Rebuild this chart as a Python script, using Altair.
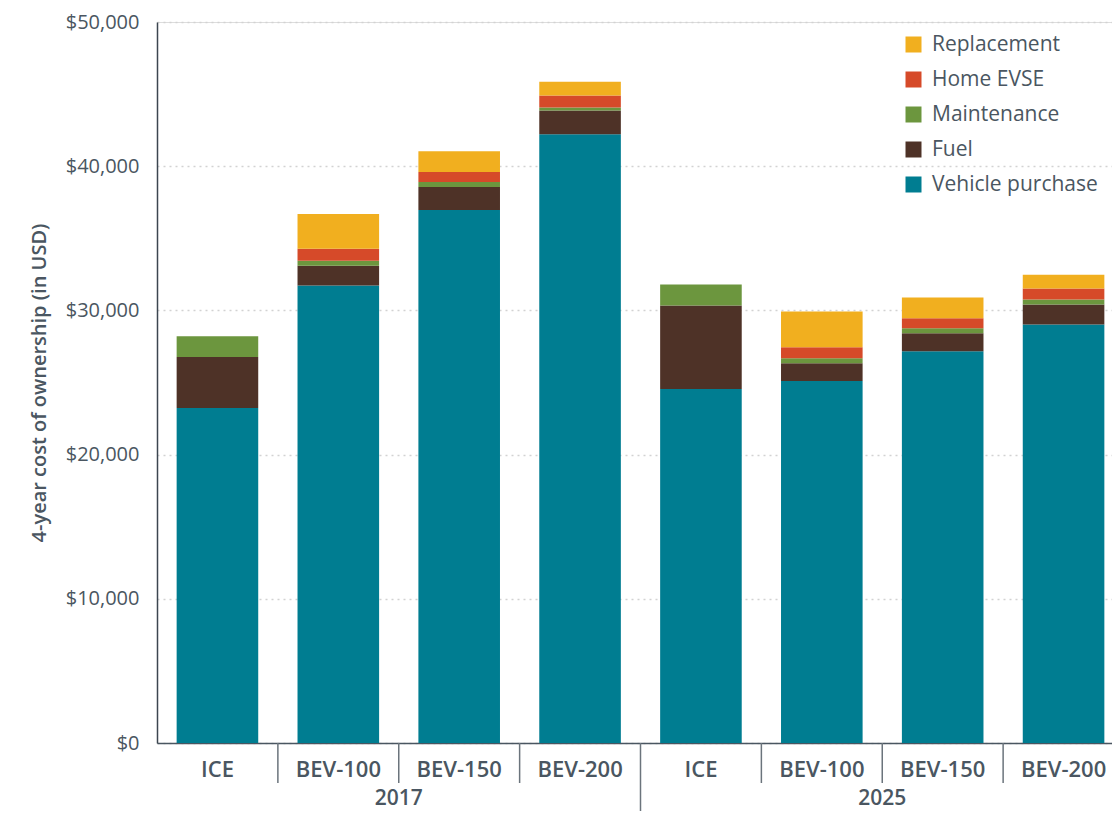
import altair as alt
import pandas as pd

# ---- data ----
years = ["2017", "2017", "2017", "2017", "2025", "2025", "2025", "2025"]
vehicles = ["ICE", "BEV-100", "BEV-150", "BEV-200", "ICE", "BEV-100", "BEV-150", "BEV-200"]
vehicle_purchase = [23240, 31720, 36970, 42210, 24550, 25100, 27170, 29030]
fuel = [3520, 1380, 1580, 1650, 5790, 1240, 1240, 1380]
maintenance = [1450, 350, 350, 210, 1450, 350, 350, 350]
home_evse = [0, 830, 690, 830, 0, 760, 690, 760]
replacement = [0, 2410, 1440, 960, 0, 2480, 1450, 960]

components = ["Vehicle purchase", "Fuel", "Maintenance", "Home EVSE", "Replacement"]
legend_order = ["Replacement", "Home EVSE", "Maintenance", "Fuel", "Vehicle purchase"]
colors = {
    "Replacement": "#F1AF1F",
    "Home EVSE": "#D64A29",
    "Maintenance": "#6C963E",
    "Fuel": "#4E3227",
    "Vehicle purchase": "#007D91",
}
y_ticks = [0, 10000, 20000, 30000, 40000, 50000]

# ---- build tables ----
bar_ids = [f"{y} {v}" for y, v in zip(years, vehicles)]
series = [vehicle_purchase, fuel, maintenance, home_evse, replacement]
rows = []
for i, bid in enumerate(bar_ids):
    for k, comp in enumerate(components):
        rows.append({"bar": bid, "component": comp, "value": series[k][i], "stack": k})
df = pd.DataFrame(rows)

labels_df = pd.DataFrame({"bar": bar_ids, "label": vehicles})
year_df = pd.DataFrame({"bar": [bar_ids[2], bar_ids[6]], "label": ["2017", "2025"]})
short_sep = pd.DataFrame({"bar": [bar_ids[1], bar_ids[2], bar_ids[3], bar_ids[5], bar_ids[6], bar_ids[7]]})
long_sep = pd.DataFrame({"bar": [bar_ids[4]]})

TXT = "#4a5661"
FONT = "Open Sans"
W, H = 955, 721
TOP, BOTTOM = 14, 68
BAND_RANGE = 967  # band range runs slightly past the visible plot, as in the source

xscale = alt.Scale(domain=bar_ids, paddingInner=0, paddingOuter=0, range=[0, BAND_RANGE])

bars = alt.Chart(df).mark_bar(width=alt.RelativeBandSize(0.675)).encode(
    x=alt.X("bar:N", scale=xscale, sort=bar_ids,
            axis=alt.Axis(labels=False, ticks=False, title=None, domain=True,
                          domainColor="#4a5661", domainWidth=1.5)),
    y=alt.Y("sum(value):Q", stack="zero",
            scale=alt.Scale(domain=[0, 50000], nice=False),
            axis=alt.Axis(values=y_ticks, format="$,.0f", title="4-year cost of ownership (in USD)",
                          grid=True, gridDash=[2, 4], gridColor="#d2d2d2", gridWidth=1.5,
                          ticks=False, labelPadding=18, labelFontSize=20, labelFont=FONT,
                          labelColor=TXT, domainColor="#3c4650", domainWidth=1.5,
                          titleFont=FONT, titleFontSize=20,
                          titleFontWeight=600, titleColor=TXT, titlePadding=16)),
    color=alt.Color("component:N", scale=alt.Scale(domain=legend_order,
                                                     range=[colors[c] for c in legend_order]),
                    legend=alt.Legend(title=None, orient="none", legendX=746, legendY=12,
                                      symbolType="square", symbolSize=256, symbolStrokeWidth=0,
                                      symbolOpacity=1, labelFont=FONT, labelFontSize=21,
                                      labelColor=TXT, rowPadding=13, labelOffset=8,
                                      labelLimit=400)),
    order=alt.Order("stack:Q", sort="ascending"),
)

cat_text = alt.Chart(labels_df).mark_text(
    font=FONT, fontSize=22, fontWeight=600, color=TXT, baseline="middle", align="center"
).encode(
    x=alt.X("bar:N", scale=xscale, sort=bar_ids, bandPosition=0.5),
    y=alt.value(H + 27),
    text="label:N",
)

year_text = alt.Chart(year_df).mark_text(
    font=FONT, fontSize=21, fontWeight=600, color=TXT, baseline="middle", align="center"
).encode(
    x=alt.X("bar:N", scale=xscale, sort=bar_ids, bandPosition=0),
    y=alt.value(H + 56),
    text="label:N",
)

short_rules = alt.Chart(short_sep).mark_rule(color="#6b747c", strokeWidth=1.5).encode(
    x=alt.X("bar:N", scale=xscale, sort=bar_ids, bandPosition=0),
    y=alt.value(H),
    y2=alt.value(H + 40),
)

long_rules = alt.Chart(long_sep).mark_rule(color="#6b747c", strokeWidth=1.5).encode(
    x=alt.X("bar:N", scale=xscale, sort=bar_ids, bandPosition=0),
    y=alt.value(H),
    y2=alt.value(H + BOTTOM),
)

chart = alt.layer(bars, short_rules, long_rules, cat_text, year_text).properties(
    width=W, height=H,
    autosize=alt.AutoSizeParams(type="none"),
    padding={"left": 149, "top": TOP, "right": 0, "bottom": BOTTOM},
).configure_view(stroke=None).configure(background="white")

chart.save("out.html", embed_options={"renderer": "svg", "actions": False})
